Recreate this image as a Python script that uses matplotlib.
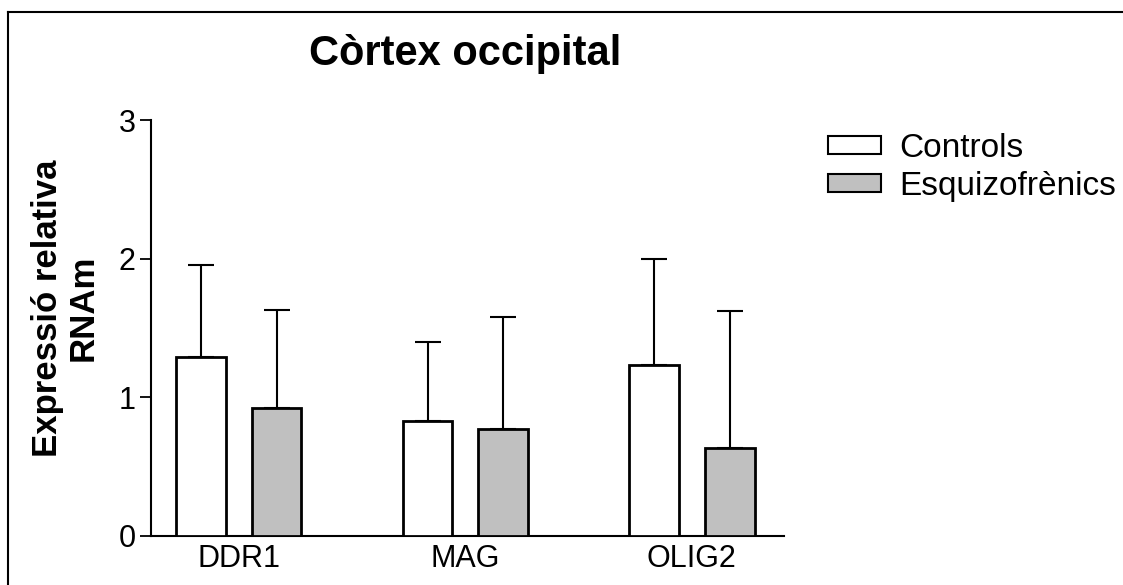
import matplotlib.pyplot as plt
import matplotlib.patches as mpatches
from matplotlib.lines import Line2D
import numpy as np

plt.rcParams['font.family'] = ['Liberation Sans', 'DejaVu Sans']

## === data ===
genes = ['DDR1', 'MAG', 'OLIG2']
controls = [1.29, 0.83, 1.23]
controls_err = [0.66, 0.57, 0.77]
esquizo = [0.92, 0.77, 0.63]
esquizo_err = [0.71, 0.81, 0.99]
yticks = [0, 1, 2, 3]

grey = '#c0c0c0'
bw = 0.66; lw_bar = 2.0; lw_err = 1.5

fig = plt.figure(figsize=(11.23, 5.85), dpi=100)
ax = fig.add_axes([150.7/1123, 1-535.7/585, (784-150.7)/1123, (535.7-120)/585])

xc = np.arange(len(genes))*3
xe = xc + 1
ax.bar(xc, controls, width=bw, color='white', edgecolor='black', linewidth=lw_bar, zorder=3)
ax.bar(xe, esquizo, width=bw, color=grey, edgecolor='black', linewidth=lw_bar, zorder=3)
ax.errorbar(xc, controls, yerr=[np.zeros(3), controls_err], fmt='none', ecolor='black',
            elinewidth=lw_err, capsize=9.6, capthick=lw_err, zorder=2)
ax.errorbar(xe, esquizo, yerr=[np.zeros(3), esquizo_err], fmt='none', ecolor='black',
            elinewidth=lw_err, capsize=9.6, capthick=lw_err, zorder=2)

ax.set_xlim(-0.666, 7.72)
ax.set_ylim(0, 3)
ax.set_yticks(yticks)
ax.set_xticks(xc + 0.5)
ax.set_xticklabels(genes)
ax.tick_params(axis='y', direction='out', length=8, width=1.3, labelsize=22, pad=3)
ax.tick_params(axis='x', length=0, labelsize=22, pad=6)
for s in ['top', 'right']:
    ax.spines[s].set_visible(False)
for s in ['left', 'bottom']:
    ax.spines[s].set_linewidth(1.5)

fig.text(465/1123, 1-54/585, 'Còrtex occipital', fontsize=30, fontweight='bold',
         ha='center', va='center')
fig.text(65/1123, 1-308/585, 'Expressió relativa\nRNAm', fontsize=25, fontweight='bold',
         rotation=90, ha='center', va='center', linespacing=1.1, multialignment='center')

handles = [mpatches.Patch(facecolor='white', edgecolor='black', linewidth=1.5),
           mpatches.Patch(facecolor=grey, edgecolor='black', linewidth=1.5)]
fig.legend(handles, ['Controls', 'Esquizofrènics'], loc='upper left',
           bbox_to_anchor=(828/1123, 1-133/585), frameon=False, fontsize=24,
           borderpad=0, borderaxespad=0, handlelength=1.6, handleheight=0.45,
           handletextpad=0.55, labelspacing=0.22)

# outer frame (only left and top edges show)
fig.add_artist(Line2D([8/1123, 8/1123], [0, 1-12/585], transform=fig.transFigure,
                      color='black', linewidth=1.5))
fig.add_artist(Line2D([8/1123, 1], [1-12/585, 1-12/585], transform=fig.transFigure,
                      color='black', linewidth=1.5))

fig.savefig('out.png', dpi=100)
